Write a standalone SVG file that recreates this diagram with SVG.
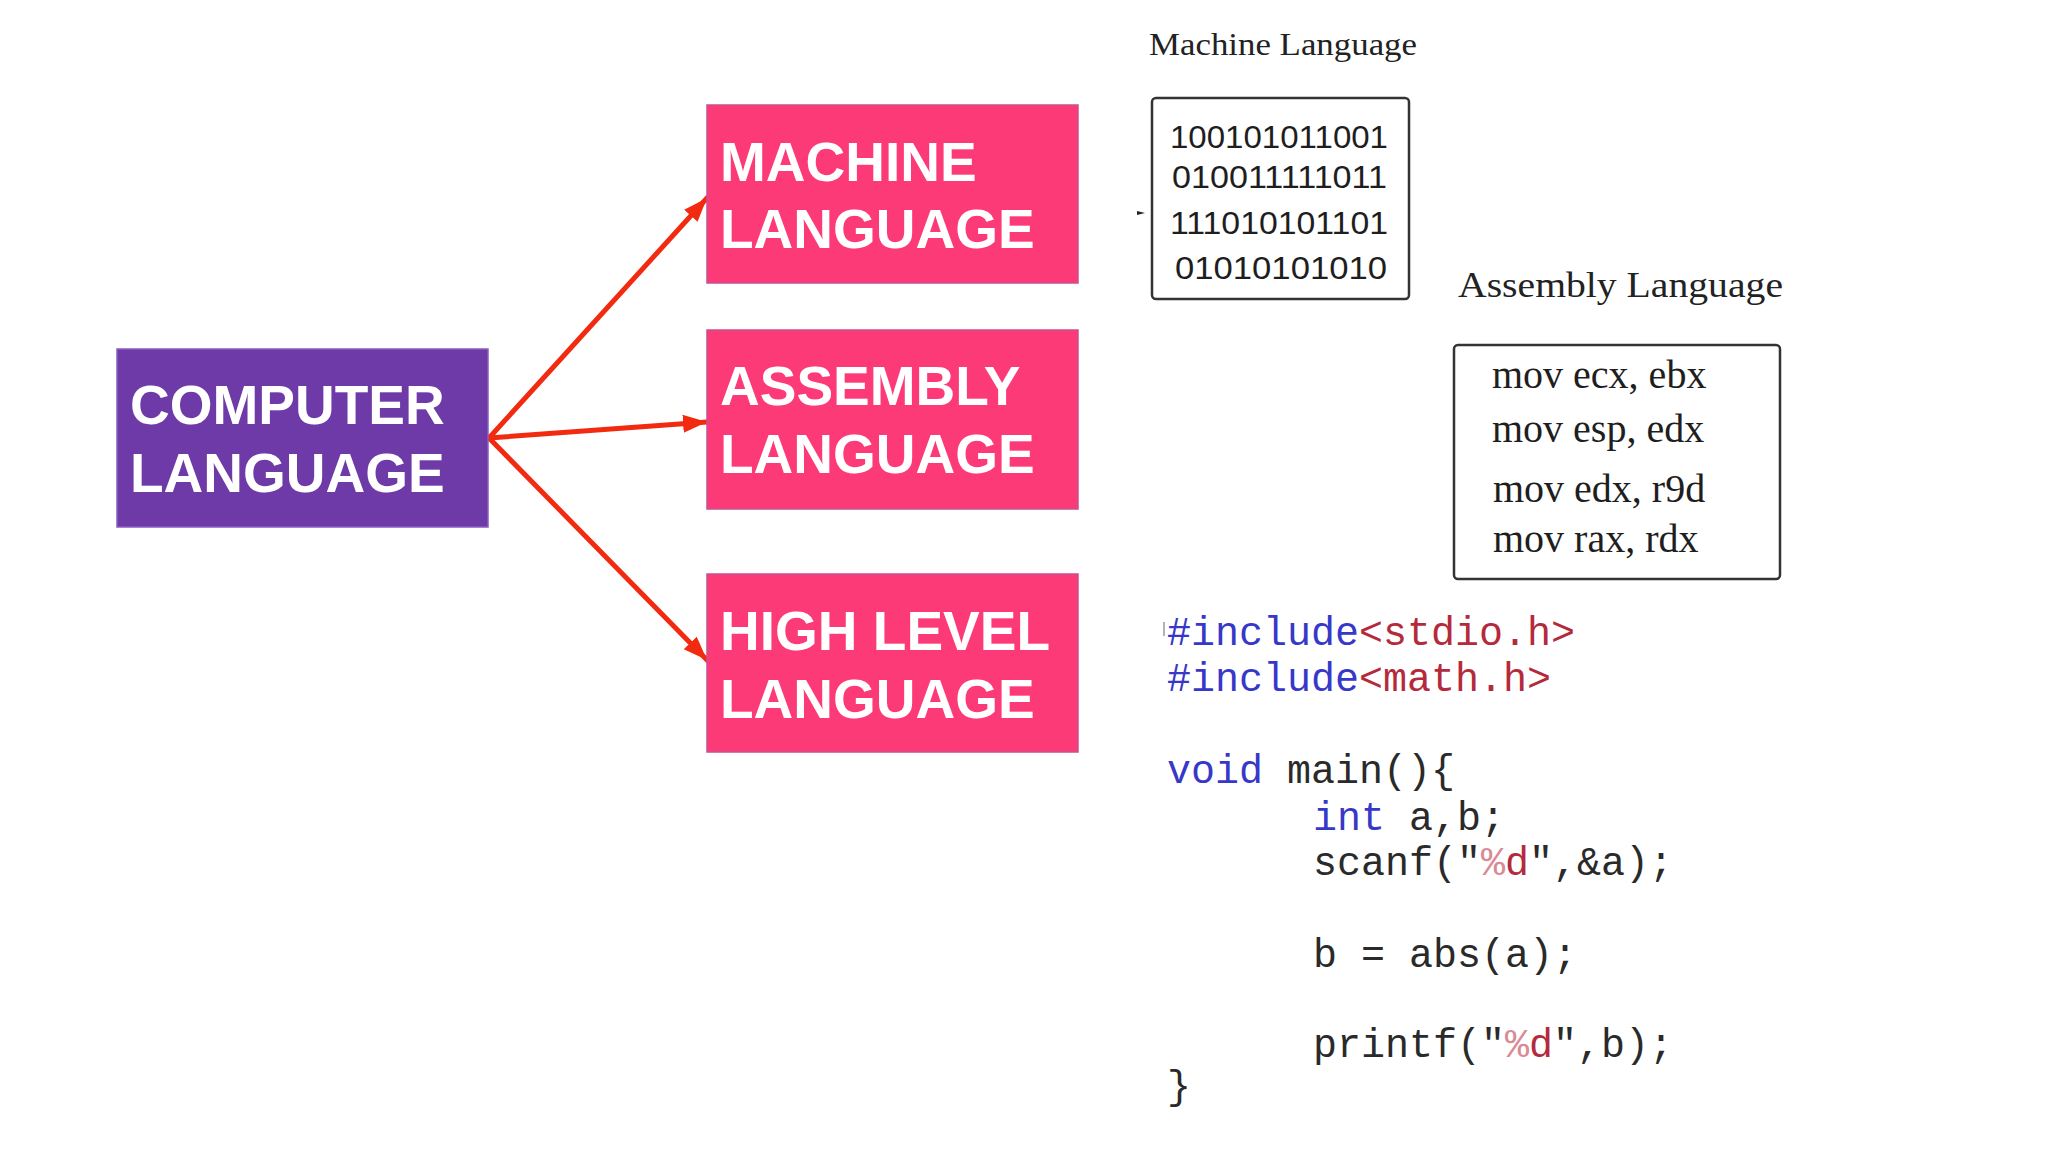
<svg xmlns="http://www.w3.org/2000/svg" width="2048" height="1152" viewBox="0 0 2048 1152">
<defs>
<style>
.bg{fill:#ffffff}
.purple{fill:#6e3aa8;stroke:#8a5cc0;stroke-width:1.5}
.pink{fill:#fd3a78;stroke:#c8508f;stroke-width:1.5}
.big{font-family:"Liberation Sans",Arial,sans-serif;font-weight:bold;font-size:55px;fill:#ffffff}
.label{font-family:"Liberation Serif","Times New Roman",serif;fill:#222222}
.box{fill:#ffffff;stroke:#333333;stroke-width:2.5}
.bin{font-family:"Liberation Sans",Arial,sans-serif;font-size:31px;fill:#1e1e1e}
.asm{font-family:"Liberation Serif","Times New Roman",serif;font-size:40px;fill:#1e1e1e}
.code{font-family:"Liberation Mono","Courier New",monospace;font-size:40px;fill:#2a2a2a}
.kw{fill:#3838c8}
.str{fill:#b42a3c}
.pct{fill:#d88a96}
.conn{stroke:#f22a10;stroke-width:5;fill:none;stroke-linecap:round}
</style>
<marker id="ah" markerUnits="userSpaceOnUse" markerWidth="26" markerHeight="20" refX="24" refY="10" orient="auto">
<path d="M0,1 L24,10 L0,19 Z" fill="#f22a10"/>
</marker>
</defs>
<rect class="bg" x="0" y="0" width="2048" height="1152"/>

<g id="connectors">
<line class="conn" x1="489" y1="438" x2="707" y2="198" marker-end="url(#ah)"/>
<line class="conn" x1="489" y1="438" x2="707" y2="422" marker-end="url(#ah)"/>
<line class="conn" x1="489" y1="438" x2="707" y2="660" marker-end="url(#ah)"/>
</g>

<g id="computer-language">
<rect class="purple" x="117" y="349" width="371" height="178"/>
<text class="big" x="130" y="424">COMPUTER</text>
<text class="big" x="130" y="492">LANGUAGE</text>
</g>

<g id="machine-language">
<rect class="pink" x="707" y="105" width="371" height="178"/>
<text class="big" x="720" y="181">MACHINE</text>
<text class="big" x="720" y="248">LANGUAGE</text>
</g>

<g id="assembly-language">
<rect class="pink" x="707" y="330" width="371" height="179"/>
<text class="big" x="720" y="405">ASSEMBLY</text>
<text class="big" x="720" y="473">LANGUAGE</text>
</g>

<g id="high-level-language">
<rect class="pink" x="707" y="574" width="371" height="178"/>
<text class="big" x="720" y="650">HIGH LEVEL</text>
<text class="big" x="720" y="718">LANGUAGE</text>
</g>

<g id="machine-code">
<text class="label" x="1149" y="55" font-size="32" textLength="268" lengthAdjust="spacingAndGlyphs">Machine Language</text>
<rect class="box" x="1152" y="98" width="257" height="201" rx="4"/>
<path d="M1137,211 L1145,213 L1137,215 Z" fill="#222222"/>
<text class="bin" x="1170" y="148" textLength="218" lengthAdjust="spacingAndGlyphs">100101011001</text>
<text class="bin" x="1172" y="188" textLength="215" lengthAdjust="spacingAndGlyphs">010011111011</text>
<text class="bin" x="1170" y="234" textLength="218" lengthAdjust="spacingAndGlyphs">111010101101</text>
<text class="bin" x="1175" y="279" textLength="212" lengthAdjust="spacingAndGlyphs">01010101010</text>
</g>

<g id="assembly-code">
<text class="label" x="1458" y="297" font-size="36" textLength="325" lengthAdjust="spacingAndGlyphs">Assembly Language</text>
<rect class="box" x="1454" y="345" width="326" height="234" rx="4"/>
<text class="asm" x="1492" y="388">mov ecx, ebx</text>
<text class="asm" x="1492" y="442">mov esp, edx</text>
<text class="asm" x="1493" y="502">mov edx, r9d</text>
<text class="asm" x="1493" y="552">mov rax, rdx</text>
</g>

<g id="high-level-code">
<line x1="1164" y1="622" x2="1164" y2="636" stroke="#9a9a9a" stroke-width="1.5"/>
<text class="code" x="1167" y="645"><tspan class="kw">#include</tspan><tspan class="str">&lt;stdio.h&gt;</tspan></text>
<text class="code" x="1167" y="691"><tspan class="kw">#include</tspan><tspan class="str">&lt;math.h&gt;</tspan></text>
<text class="code" x="1167" y="783"><tspan class="kw">void</tspan> main(){</text>
<text class="code" x="1313" y="830"><tspan class="kw">int</tspan> a,b;</text>
<text class="code" x="1313" y="875">scanf("<tspan class="pct">%</tspan><tspan class="str">d</tspan>",&amp;a);</text>
<text class="code" x="1313" y="967">b = abs(a);</text>
<text class="code" x="1313" y="1057">printf("<tspan class="pct">%</tspan><tspan class="str">d</tspan>",b);</text>
<text class="code" x="1167" y="1099">}</text>
</g>
</svg>
